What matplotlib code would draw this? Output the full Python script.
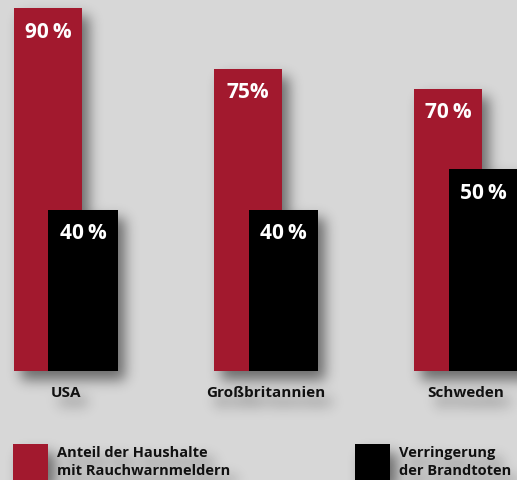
import matplotlib
matplotlib.use("Agg")
import matplotlib.pyplot as plt
from matplotlib.patches import Rectangle
import numpy as np

# data
laender = ["USA", "Großbritannien", "Schweden"]
anteil_rauchmelder = [90, 75, 70]   # Anteil der Haushalte mit Rauchwarnmeldern
verringerung_tote = [40, 40, 50]    # Verringerung der Brandtoten
label_rot = ["90\u2009%", "75%", "70\u2009%"]
label_schwarz = ["40\u2009%", "40\u2009%", "50\u2009%"]
legende = ["Anteil der Haushalte\nmit Rauchwarnmeldern", "Verringerung\nder Brandtoten"]

ROT = "#a2192e"
GRAU = "#d7d7d7"
FONT = ["Open Sans", "DejaVu Sans"]

plt.rcParams["font.family"] = FONT

fig = plt.figure(figsize=(5.17, 4.81), dpi=100)
fig.patch.set_alpha(0)
ax = fig.add_axes([0, 0, 1, 1])
ax.axis("off")
ax.patch.set_visible(False)

x = np.arange(len(laender))
w_rot = 0.34
w_schwarz = 0.345
versatz = 0.175

ax.bar(x, anteil_rauchmelder, width=w_rot, color=ROT, zorder=2)
ax.bar(x + versatz, verringerung_tote, width=w_schwarz, color="black", zorder=3)

ax.set_xlim(-0.24, 2.345)
ax.set_ylim(-27.03, 92.24)

# value labels inside the bars
for xi, v, t in zip(x, anteil_rauchmelder, label_rot):
    ax.text(xi, v - 5.7, t, color="white", fontsize=15, fontweight="bold",
            ha="center", va="center", zorder=5)
for xi, v, t in zip(x + versatz, verringerung_tote, label_schwarz):
    ax.text(xi, v - 5.7, t, color="white", fontsize=15, fontweight="bold",
            ha="center", va="center", zorder=5)

# category labels under each pair
for xi, name in zip(x, laender):
    links = xi - w_rot / 2
    rechts = xi + versatz + w_schwarz / 2
    ax.text((links + rechts) / 2, -5.2, name, fontsize=11, fontweight="bold",
            ha="center", va="center", color="#111111")

# legend
fw, fh = 517.0, 481.0
for (px, farbe), txt in zip([(13, ROT), (355, "black")], legende):
    fig.patches.append(Rectangle((px / fw, 0.0), 35 / fw, 36 / fh, transform=fig.transFigure,
                                 facecolor=farbe, edgecolor="none", zorder=4))
    fig.text((px + 44) / fw, 35 / fh, txt, fontsize=10.5, fontweight="bold",
             ha="left", va="top", linespacing=1.35, color="#111111")

# soft drop shadow: render once on transparent background, blur the coverage
fig.canvas.draw()
maske = np.asarray(fig.canvas.buffer_rgba())[..., 3].astype(float) / 255.0
H, W = maske.shape
dx, dy, sigma, pad = 7, 9, 6.5, 40
gross = np.zeros((H + 2 * pad, W + 2 * pad))
gross[pad + dy:pad + dy + H, pad + dx:pad + dx + W] = maske
# content running off the right edge keeps its shadow
gross[pad + dy:pad + dy + H, pad + dx + W:] = maske[:, -1:]
t = np.arange(-20, 21)
kern = np.exp(-t ** 2 / (2 * sigma ** 2))
kern /= kern.sum()
gross = np.apply_along_axis(lambda r: np.convolve(r, kern, mode="same"), 1, gross)
gross = np.apply_along_axis(lambda c: np.convolve(c, kern, mode="same"), 0, gross)
schatten = gross[pad:pad + H, pad:pad + W]
rgba = np.zeros((H, W, 4))
rgba[..., 3] = np.clip(schatten, 0, 1) * 0.5
ax.imshow(rgba, extent=(*ax.get_xlim(), *ax.get_ylim()), origin="upper",
          aspect="auto", interpolation="nearest", zorder=1)

fig.patch.set_facecolor(GRAU)
fig.patch.set_alpha(1)
fig.savefig("out.png", dpi=100, facecolor=GRAU)
